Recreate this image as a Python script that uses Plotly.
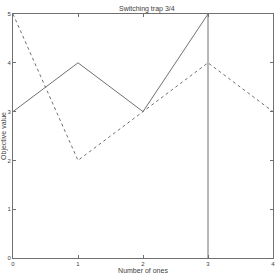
import plotly.graph_objects as go

x_solid = [0, 1, 2, 3, 3]
y_solid = [3, 4, 3, 5, 0]
x_dashed = [0, 1, 2, 3, 4]
y_dashed = [5, 2, 3, 4, 3]
x_ticks = [0, 1, 2, 3, 4]
y_ticks = [0, 1, 2, 3, 4, 5]

LINE = "#707070"
TXT = "#404040"
FONT = "Arial, Liberation Sans, DejaVu Sans, sans-serif"

fig = go.Figure()
fig.add_trace(go.Scatter(x=x_solid, y=y_solid, mode="lines",
                         line=dict(color=LINE, width=1), showlegend=False))
fig.add_trace(go.Scatter(x=x_dashed, y=y_dashed, mode="lines",
                         line=dict(color=LINE, width=1, dash="3px,3px"), showlegend=False))

axis_common = dict(showgrid=False, zeroline=False, showline=True, linecolor=LINE,
                   linewidth=1, mirror="ticks", ticks="inside", ticklen=3,
                   tickcolor=LINE, automargin=False,
                   tickfont=dict(size=6, color=TXT, family=FONT))
fig.update_layout(
    width=277, height=277,
    margin=dict(l=13, r=4, t=14, b=19),
    paper_bgcolor="white", plot_bgcolor="white",
    font=dict(family=FONT, color=TXT),
    title=dict(text="Switching trap 3/4", x=0.53, xanchor="center", y=0.97, yanchor="middle",
               font=dict(size=7, color=TXT, family=FONT)),
    xaxis=dict(range=[0, 4], tickvals=x_ticks, ticklabelstandoff=0,
               title=dict(text="Number of ones", standoff=0,
                          font=dict(size=7, color=TXT, family=FONT)),
               **axis_common),
    yaxis=dict(range=[0, 5], tickvals=y_ticks,
               title=dict(text="Objective value", standoff=0,
                          font=dict(size=7, color=TXT, family=FONT)),
               **axis_common),
)
fig.write_html("out.html", config={"displayModeBar": False},
               post_script="document.body.style.margin='0';document.body.style.overflow='hidden';")
